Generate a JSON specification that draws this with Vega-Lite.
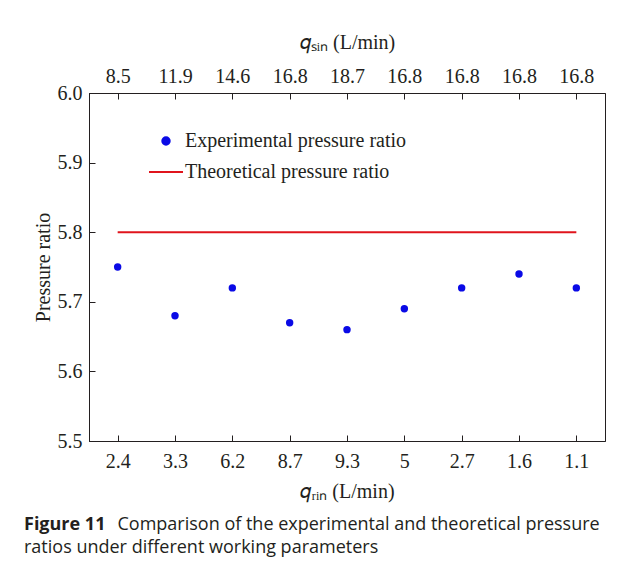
{
  "$schema": "https://vega.github.io/schema/vega-lite/v6.json",
  "width": 516,
  "height": 348,
  "autosize": {"type": "none"},
  "padding": {"left": 89, "top": 93, "right": 22, "bottom": 126},
  "background": "white",
  "data": {
    "values": [
      {"qrin": "2.4", "qsin": "8.5", "experimental": 5.75, "theoretical": 5.8},
      {"qrin": "3.3", "qsin": "11.9", "experimental": 5.68, "theoretical": 5.8},
      {"qrin": "6.2", "qsin": "14.6", "experimental": 5.72, "theoretical": 5.8},
      {"qrin": "8.7", "qsin": "16.8", "experimental": 5.67, "theoretical": 5.8},
      {"qrin": "9.3", "qsin": "18.7", "experimental": 5.66, "theoretical": 5.8},
      {"qrin": "5", "qsin": "16.8", "experimental": 5.69, "theoretical": 5.8},
      {"qrin": "2.7", "qsin": "16.8", "experimental": 5.72, "theoretical": 5.8},
      {"qrin": "1.6", "qsin": "16.8", "experimental": 5.74, "theoretical": 5.8},
      {"qrin": "1.1", "qsin": "16.8", "experimental": 5.72, "theoretical": 5.8}
    ]
  },
  "title": {
    "text": "Figure 11",
    "subtitle": [
      "\u200b\u00a0\u00a0\u00a0\u00a0\u00a0\u00a0\u00a0\u00a0\u00a0\u00a0\u00a0\u00a0\u00a0\u00a0\u00a0\u00a0\u00a0\u00a0\u00a0\u00a0Comparison of the experimental and theoretical pressure",
      "ratios under different working parameters"
    ],
    "orient": "bottom",
    "anchor": "start",
    "frame": "group",
    "dx": -65,
    "offset": 15,
    "font": "Open Sans",
    "fontSize": 18,
    "fontWeight": "bold",
    "color": "#231f20",
    "subtitleFont": "Open Sans",
    "subtitleFontSize": 18,
    "subtitleColor": "#231f20",
    "subtitleLineHeight": 23,
    "subtitlePadding": -18
  },
  "layer": [
    {
      "mark": {"type": "line", "strokeWidth": 2},
      "encoding": {
        "x": {
          "field": "qrin", "type": "nominal", "sort": null,
          "scale": {"type": "point", "padding": 0.5},
          "axis": {
            "orient": "top",
            "title": "𝑞ₛᵢₙ (L/min)",
            "labelPadding": 13,
            "titlePadding": 14,
            "labelExpr": "['8.5','11.9','14.6','16.8','18.7','16.8','16.8','16.8','16.8'][indexof(['2.4','3.3','6.2','8.7','9.3','5','2.7','1.6','1.1'], datum.value)]"
          }
        },
        "y": {
          "field": "theoretical", "type": "quantitative",
          "scale": {"domain": [5.5, 6.0], "nice": false, "zero": false},
          "axis": {"title": "Pressure ratio", "values": [5.5, 5.6, 5.7, 5.8, 5.9, 6.0], "format": ".1f", "titlePadding": 4, "labelPadding": 13}
        },
        "color": {
          "datum": "Theoretical pressure ratio",
          "scale": {
            "domain": ["Experimental pressure ratio", "Theoretical pressure ratio"],
            "range": ["#0a0ae6", "#e0141c"]
          },
          "legend": {
            "orient": "none",
            "legendX": 67,
            "legendY": 38,
            "title": null,
            "labelFont": "Liberation Serif",
            "labelFontSize": 20,
            "labelColor": "#231f20",
            "labelLimit": 0,
            "symbolSize": 1156,
            "rowPadding": 11,
            "labelOffset": 9,
            "symbolStrokeWidth": 2,
            "encode": {
              "symbols": {
                "update": {
                  "shape": {"signal": "datum.value === 'Theoretical pressure ratio' ? 'stroke' : 'circle'"},
                  "size": {"signal": "datum.value === 'Theoretical pressure ratio' ? 1156 : 55"},
                  "fill": {"signal": "datum.value === 'Theoretical pressure ratio' ? 'transparent' : '#0a0ae6'"},
                  "stroke": {"signal": "datum.value === 'Theoretical pressure ratio' ? '#e0141c' : 'transparent'"},
                  "strokeWidth": {"value": 2},
                  "opacity": {"value": 1}
                }
              }
            }
          }
        }
      }
    },
    {
      "mark": {"type": "point", "filled": true, "size": 55, "opacity": 1},
      "encoding": {
        "x": {
          "field": "qrin", "type": "nominal", "sort": null,
          "axis": {"orient": "bottom", "title": "𝑞ᵣᵢₙ (L/min)", "labelPadding": 16, "titlePadding": 10}
        },
        "y": {
          "field": "experimental", "type": "quantitative"
        },
        "color": {"datum": "Experimental pressure ratio"}
      }
    }
  ],
  "resolve": {"axis": {"x": "independent"}},
  "config": {
    "view": {"stroke": "#231f20", "strokeWidth": 1},
    "axis": {
      "grid": false,
      "labelFont": "Liberation Serif",
      "labelFontSize": 20,
      "labelColor": "#231f20",
      "titleFont": "Liberation Serif",
      "titleFontSize": 20,
      "titleFontWeight": "normal",
      "titleColor": "#231f20",
      "domainColor": "#231f20",
      "tickColor": "#231f20",
      "tickSize": -6,
      "labelAngle": 0
    }
  }
}
